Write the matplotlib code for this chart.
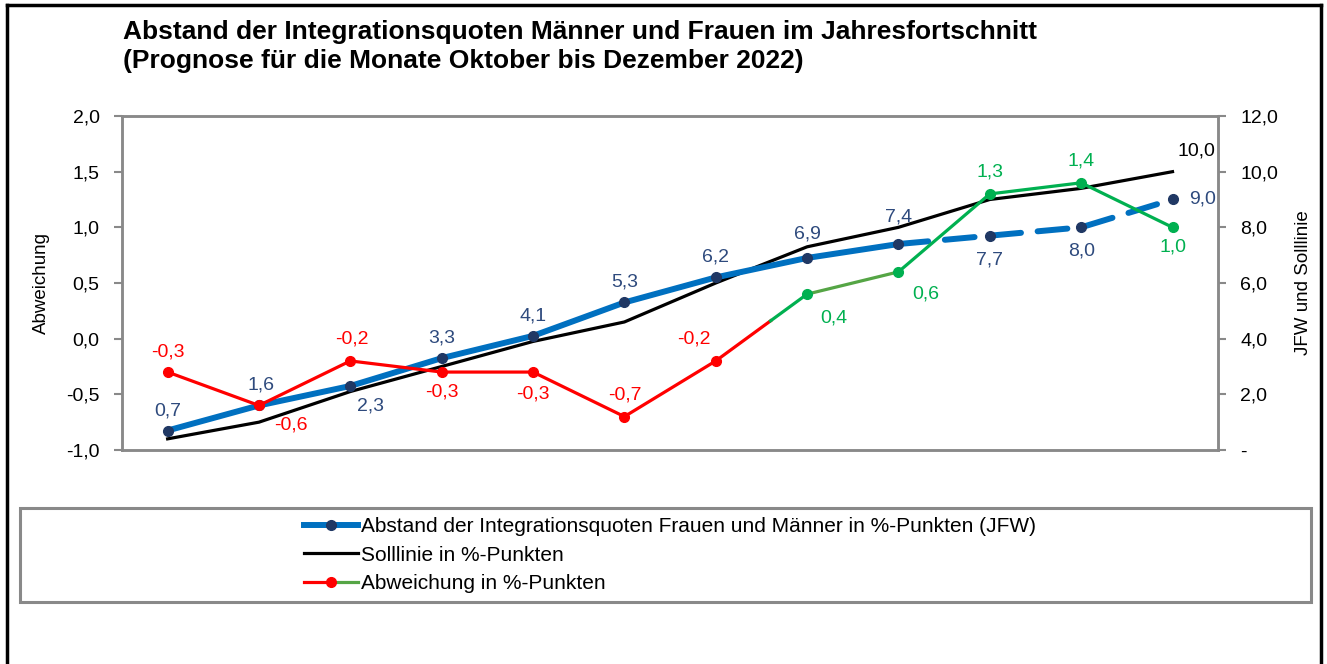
import matplotlib.pyplot as plt
from matplotlib.lines import Line2D
from matplotlib.legend_handler import HandlerBase
from matplotlib.patches import Rectangle
from matplotlib.ticker import FuncFormatter

plt.rcParams['font.family'] = ['Liberation Sans', 'DejaVu Sans']

# --------------------------
# Daten
# --------------------------
monate = list(range(1, 13))
jfw = [0.7, 1.6, 2.3, 3.3, 4.1, 5.3, 6.2, 6.9, 7.4, 7.7, 8.0, 9.0]
soll = [0.4, 1.0, 2.1, 3.0, 3.9, 4.6, 6.0, 7.3, 8.0, 9.0, 9.4, 10.0]
abweichung = [-0.3, -0.6, -0.2, -0.3, -0.3, -0.7, -0.2, 0.4, 0.6, 1.3, 1.4, 1.0]
n_ist = 9        # bis September Ist-Werte, danach Prognose
n_rot = 7        # rote Abweichung bis Juli

# Label-Positionen (Versatz in Pixel)
jfw_off = [(0, 20), (2, 20), (20, -20), (0, 20), (0, 20), (0, 20), (0, 20),
           (0, 24), (0, 27), (0, -24), (0, -24), (30, 0)]
abw_off = [(0, 20), (32, -20), (2, 22), (0, -20), (0, -22), (0, 22), (-22, 22),
           (27, -24), (27, -22), (0, 22), (0, 22), (0, -20)]

BLAU = '#0070C0'
NAVY = '#203864'
LBLAU = '#2E4A7D'
ROT = '#FF0000'
GRUEN = '#00B050'
GRUEN2 = '#55A545'
GRAU = '#898989'
FS = 14

def fmt(v):
    return ('%.1f' % v).replace('.', ',')

fig = plt.figure(figsize=(13.27, 6.64), dpi=100)
ax = fig.add_axes([0.0919, 0.3223, 0.8261, 0.503])
ax2 = ax.twinx()
ax.set_zorder(ax2.get_zorder() + 1)
ax.patch.set_visible(False)
ax2.patch.set_facecolor('#F2F2F2')

# --------------------------
# JFW und Solllinie (rechte Achse)
# --------------------------
ax2.plot(monate, soll, color='black', lw=2.3, zorder=2)
ax2.plot(monate[:n_ist], jfw[:n_ist], color=BLAU, lw=4.3, solid_capstyle='round', zorder=3)
ax2.plot(monate[n_ist - 1:], jfw[n_ist - 1:], color=BLAU, lw=4.3, dashes=(5, 2.8),
         dash_capstyle='round', zorder=3)
ax2.plot(monate, jfw, ls='none', marker='o', ms=7, color=NAVY, zorder=4)
for x, v, (dx, dy) in zip(monate, jfw, jfw_off):
    ax2.annotate(fmt(v), (x, v), xytext=(dx, dy), textcoords='offset pixels',
                 ha='center', va='center', color=LBLAU, fontsize=FS)
ax2.annotate(fmt(soll[-1]), (monate[-1], soll[-1]), xytext=(24, 21), textcoords='offset pixels',
             ha='center', va='center', color='black', fontsize=FS)

# --------------------------
# Abweichung (linke Achse)
# --------------------------
ax.plot(monate[:n_rot], abweichung[:n_rot], color=ROT, lw=2.3, marker='o', ms=7, zorder=3)
# Übergang rot -> grün
t = 0.6
xm = monate[n_rot - 1] + t * (monate[n_rot] - monate[n_rot - 1])
ym = abweichung[n_rot - 1] + t * (abweichung[n_rot] - abweichung[n_rot - 1])
ax.plot([monate[n_rot - 1], xm], [abweichung[n_rot - 1], ym], color=ROT, lw=2.3, zorder=3)
ax.plot([xm, monate[n_rot]], [ym, abweichung[n_rot]], color=GRUEN, lw=2.3, zorder=3)
ax.plot(monate[n_rot:n_rot + 2], abweichung[n_rot:n_rot + 2], color=GRUEN2, lw=2.3, zorder=3)
ax.plot(monate[n_rot + 1:], abweichung[n_rot + 1:], color=GRUEN, lw=2.3, zorder=3)
ax.plot(monate[n_rot:], abweichung[n_rot:], ls='none', marker='o', ms=7, color=GRUEN, zorder=4)
for i, (x, v, (dx, dy)) in enumerate(zip(monate, abweichung, abw_off)):
    ax.annotate(fmt(v), (x, v), xytext=(dx, dy), textcoords='offset pixels',
                ha='center', va='center', color=ROT if i < n_rot else GRUEN, fontsize=FS)

# --------------------------
# Achsen
# --------------------------
ax.set_xlim(0.5, 12.5)
ax.set_ylim(-1.0, 2.0)
ax2.set_ylim(0, 12)
ax.set_yticks([-1.0, -0.5, 0.0, 0.5, 1.0, 1.5, 2.0])
ax2.set_yticks([0, 2, 4, 6, 8, 10, 12])
ax.yaxis.set_major_formatter(FuncFormatter(lambda v, p: fmt(v)))
ax2.yaxis.set_major_formatter(FuncFormatter(lambda v, p: '-' if v == 0 else fmt(v)))
ax.set_xticks([])
ax2.set_xticks([])
for a in (ax, ax2):
    for s in a.spines.values():
        s.set_color(GRAU)
        s.set_linewidth(1.8)
    a.tick_params(axis='y', colors=GRAU, length=6, width=1.5, labelsize=FS,
                  labelcolor='black', pad=10)
ax.set_ylabel('Abweichung', fontsize=13.5, labelpad=12)
ax2.set_ylabel('JFW und Solllinie', fontsize=13.5, labelpad=12)

# --------------------------
# Titel
# --------------------------
fig.text(0.0927, 0.97, 'Abstand der Integrationsquoten Männer und Frauen im Jahresfortschnitt\n'
         '(Prognose für die Monate Oktober bis Dezember 2022)',
         ha='left', va='top', fontsize=19, fontweight='bold', linespacing=1.25)

# --------------------------
# Legende
# --------------------------
class RotGruen(HandlerBase):
    def create_artists(self, legend, orig, xd, yd, w, h, fs, trans):
        y = h / 2 - yd
        l1 = Line2D([-xd, -xd + w / 2], [y, y], color=ROT, lw=2.3, transform=trans)
        l2 = Line2D([-xd + w / 2, -xd + w], [y, y], color=GRUEN2, lw=2.3, transform=trans)
        m = Line2D([-xd + w / 2], [y], color=ROT, marker='o', ms=7, ls='none', transform=trans)
        return [l1, l2, m]

h1 = Line2D([], [], color=BLAU, lw=4.3, marker='o', ms=7, mfc=NAVY, mec=NAVY)
h2 = Line2D([], [], color='black', lw=2.3)
h3 = Line2D([], [], color=ROT)
fig.patches.append(Rectangle((0.0151, 0.0934), 0.973, 0.1416, transform=fig.transFigure,
                             fill=False, edgecolor=GRAU, lw=2.2))
fig.legend([h1, h2, h3],
           ['Abstand der Integrationsquoten Frauen und Männer in %-Punkten (JFW)',
            'Solllinie in %-Punkten', 'Abweichung in %-Punkten'],
           handler_map={h3: RotGruen()}, loc='center left', bbox_to_anchor=(0.215, 0.164),
           frameon=False, fontsize=15, handlelength=2.6, labelspacing=0.45, handletextpad=0.15)

# äußerer Rahmen
for xs, ys in [([0.0053, 0.0053], [0, 0.9925]), ([0.0053, 0.9955], [0.9925, 0.9925]),
               ([0.9955, 0.9955], [0, 0.9925])]:
    fig.add_artist(Line2D(xs, ys, color='black', lw=2.5, transform=fig.transFigure))

fig.savefig('out.png', dpi=100)
